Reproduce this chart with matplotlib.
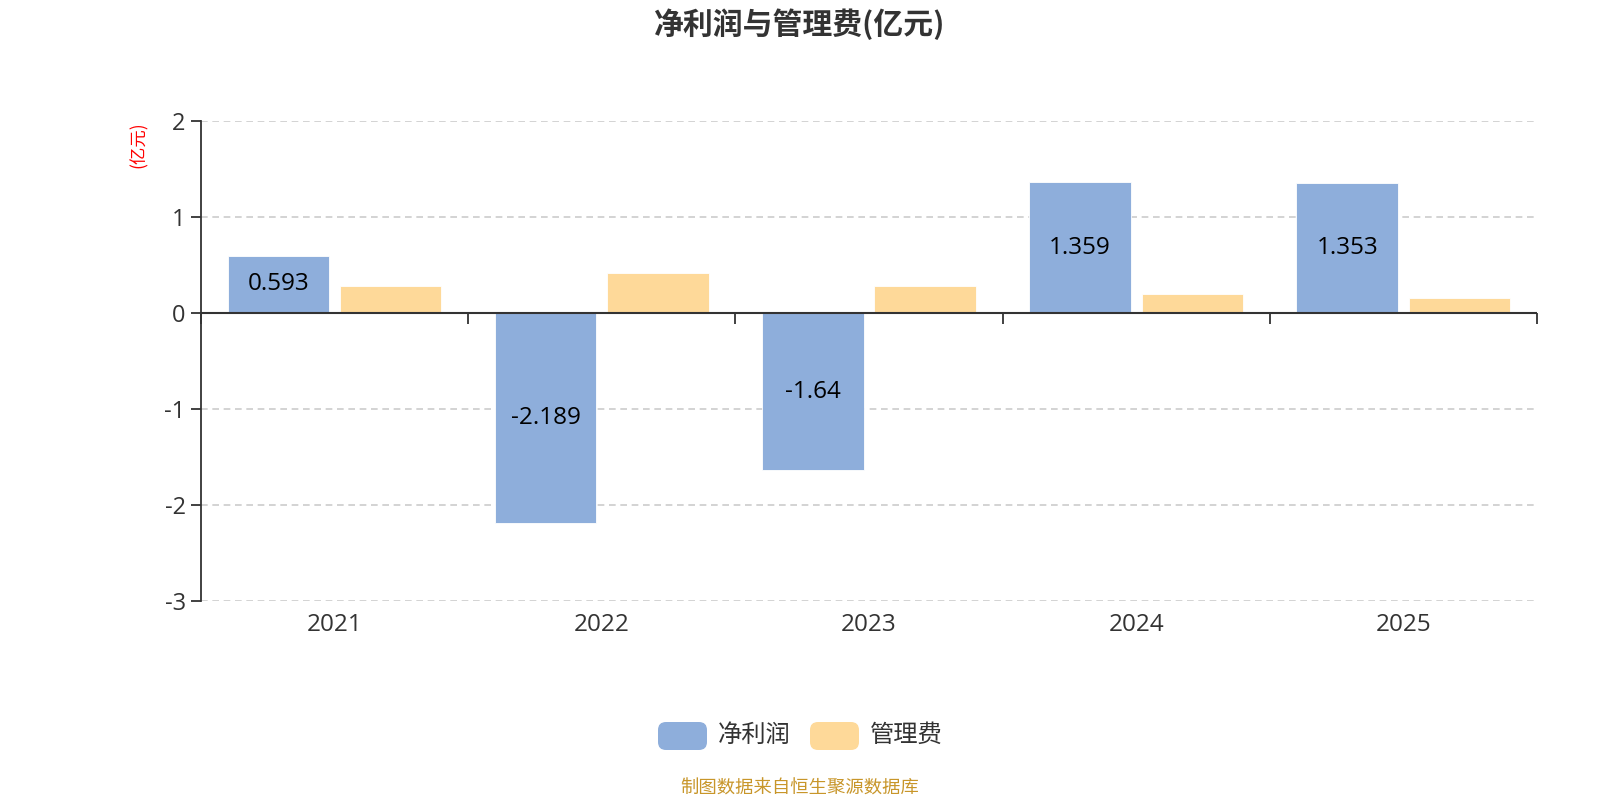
import matplotlib
matplotlib.use("Agg")
import matplotlib.pyplot as plt
import numpy as np
from matplotlib.patches import FancyBboxPatch

plt.rcParams['font.family'] = ['Noto Sans CJK SC', 'DejaVu Sans']
plt.rcParams['axes.unicode_minus'] = False

# data
years = ['2021', '2022', '2023', '2024', '2025']
net_profit = [0.593, -2.189, -1.64, 1.359, 1.353]
admin_fee = [0.277, 0.415, 0.277, 0.20, 0.15]
series_names = ['净利润', '管理费']
y_ticks = [-3, -2, -1, 0, 1, 2]

blue = '#8eaedb'
orange = '#fed999'
axis_c = '#333333'
num_font = ['Open Sans', 'DejaVu Sans']

fig = plt.figure(figsize=(16, 8), dpi=100)
ax = fig.add_axes([0.1256, 0.249, 0.835, 0.600])

x = np.arange(len(years))
w = 0.38
off = 0.21
bars = ax.bar(x - off, net_profit, w, color=blue, edgecolor='white', linewidth=0.6, zorder=3)
ax.bar(x + off, admin_fee, w, color=orange, edgecolor='white', linewidth=0.6, zorder=3)

for b, v in zip(bars, net_profit):
    ax.text(b.get_x() + b.get_width() / 2, v / 2, f'{v:g}', ha='center', va='center',
            fontsize=17.5, color='black', family=num_font, zorder=4)

ax.set_xlim(-0.5, len(years) - 0.5)
ax.set_ylim(-3, 2)

# grid
for t in y_ticks:
    if t != 0:
        ax.axhline(t, color='#cccccc', linestyle=(0, (4, 2.8)), linewidth=1.2, zorder=1)

# x axis line at zero
ax.axhline(0, color=axis_c, linewidth=1.5, zorder=4)

# spines
for s in ['top', 'right', 'bottom']:
    ax.spines[s].set_visible(False)
ax.spines['left'].set_color(axis_c)
ax.spines['left'].set_linewidth(1.3)
ax.set_yticks(y_ticks)
ax.tick_params(axis='y', colors=axis_c, labelcolor=axis_c, labelsize=17, length=7, width=1.3, pad=4)

# category labels at bottom
ax.set_xticks(x)
ax.set_xticklabels(years)
ax.tick_params(axis='x', length=0, labelsize=17.5, labelcolor=axis_c, pad=9)
for lab in ax.get_xticklabels() + ax.get_yticklabels():
    lab.set_family(num_font)

# boundary ticks on the zero line
sec = ax.secondary_xaxis(3 / 5)
sec.xaxis.set_ticks_position('bottom')
for s in sec.spines.values():
    s.set_visible(False)
sec.set_xticks(np.arange(len(years) + 1) - 0.5)
sec.set_xticklabels([''] * (len(years) + 1))
sec.tick_params(axis='x', direction='out', length=8, width=1.3, color=axis_c, pad=0)

# title
fig.text(0.5, 1 - 24 / 800, '净利润与管理费(亿元)', ha='center', va='center',
         fontsize=21.5, fontweight='bold', color=axis_c)

# y unit label
fig.text(139 / 1600, 1 - 145 / 800, '(亿元)', rotation=90, ha='center', va='center',
         fontsize=12.5, color='red')

# legend
items = [(658, blue, series_names[0]), (810, orange, series_names[1])]
for px, c, lab in items:
    p = FancyBboxPatch((px / 1600, 1 - 750 / 800), 49 / 1600, 28 / 800,
                       boxstyle='round,pad=0,rounding_size=0.005',
                       transform=fig.transFigure, facecolor=c, edgecolor='none',
                       mutation_aspect=2)
    fig.patches.append(p)
    fig.text((px + 60) / 1600, 1 - 735 / 800, lab, ha='left', va='center',
             fontsize=17.5, color=axis_c)

# footer
fig.text(0.5, 1 - 789 / 800, '制图数据来自恒生聚源数据库', ha='center', va='center',
         fontsize=13.2, color='#c8962a')

fig.savefig('out.png', dpi=100)
